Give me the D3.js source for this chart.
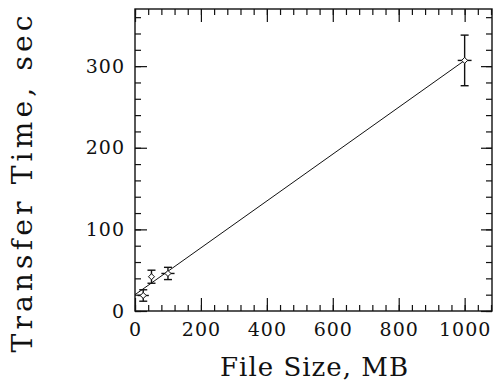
<!DOCTYPE html>
<html>
<head>
<meta charset="utf-8">
<script src="https://cdn.jsdelivr.net/npm/d3@7"></script>
<style>
  body { margin: 0; background: #fff; }
  text { font-family: "DejaVu Serif", serif; fill: #111; }
</style>
</head>
<body>
<div id="chart"></div>
<script>
// data
var fileSizes = [25, 50, 100, 1000];        // MB
var sizeErrors = [17, 8, 20, 21];
var transferTimes = [19, 42, 46, 307];      // sec
var timeErrors = [7, 8, 7.5, 31];
var fitSizes = [0, 1000];
var fitTimes = [20, 307];
var xTicks = [0, 200, 400, 600, 800, 1000];
var yTicks = [0, 100, 200, 300];

var svgWidth = 495;
var svgHeight = 381;

var margin = { top: 9, right: 3, bottom: 70, left: 135 };
var width = svgWidth - margin.left - margin.right;
var height = svgHeight - margin.top - margin.bottom;

var svg = d3.select("#chart")
  .append("svg")
  .attr("width", svgWidth)
  .attr("height", svgHeight);

var chartGroup = svg.append("g")
  .attr("transform", `translate(${margin.left}, ${margin.top})`);

var xScale = d3.scaleLinear().domain([0, 1083]).range([0, width]);
var yScale = d3.scaleLinear().domain([0, 370]).range([height, 0]);

var xMinor = d3.range(0, 1083, 40);
var yMinor = d3.range(0, 370, 20);

// axes (ticks pointing inward)
function styleAxis(g) {
  g.select(".domain").remove();
  g.selectAll("line").attr("stroke", "#111").attr("stroke-width", 1.2);
  return g;
}

chartGroup.append("g")
  .attr("transform", `translate(0, ${height})`)
  .call(d3.axisBottom(xScale).tickValues(xMinor).tickFormat("").tickSize(-6))
  .call(styleAxis);
chartGroup.append("g")
  .attr("transform", `translate(0, ${height})`)
  .call(d3.axisBottom(xScale).tickValues(xTicks).tickFormat(d3.format("d")).tickSize(-13).tickPadding(12))
  .call(styleAxis)
  .selectAll("text")
  .attr("font-size", 19)
  .attr("letter-spacing", 1)
  .attr("font-family", "DejaVu Serif");

chartGroup.append("g")
  .call(d3.axisTop(xScale).tickValues(xMinor).tickFormat("").tickSize(-6))
  .call(styleAxis);
chartGroup.append("g")
  .call(d3.axisTop(xScale).tickValues(xTicks).tickFormat("").tickSize(-13))
  .call(styleAxis);

chartGroup.append("g")
  .call(d3.axisLeft(yScale).tickValues(yMinor).tickFormat("").tickSize(-6))
  .call(styleAxis);
chartGroup.append("g")
  .call(d3.axisLeft(yScale).tickValues(yTicks).tickFormat(d3.format("d")).tickSize(-12).tickPadding(10))
  .call(styleAxis)
  .selectAll("text")
  .attr("font-size", 19)
  .attr("letter-spacing", 1)
  .attr("font-family", "DejaVu Serif");

chartGroup.append("g")
  .attr("transform", `translate(${width}, 0)`)
  .call(d3.axisRight(yScale).tickValues(yMinor).tickFormat("").tickSize(-6))
  .call(styleAxis);
chartGroup.append("g")
  .attr("transform", `translate(${width}, 0)`)
  .call(d3.axisRight(yScale).tickValues(yTicks).tickFormat("").tickSize(-11))
  .call(styleAxis);

// frame
chartGroup.append("rect")
  .attr("width", width)
  .attr("height", height)
  .attr("fill", "none")
  .attr("stroke", "#111")
  .attr("stroke-width", 1.4);

// fit line
var line = d3.line()
  .x(d => xScale(d[0]))
  .y(d => yScale(d[1]));

chartGroup.append("path")
  .datum(d3.zip(fitSizes, fitTimes))
  .attr("d", line)
  .attr("fill", "none")
  .attr("stroke", "#111")
  .attr("stroke-width", 1);

var points = fileSizes.map((s, i) => ({
  x: s, y: transferTimes[i], ex: sizeErrors[i], ey: timeErrors[i]
}));

var pts = chartGroup.selectAll(".pt")
  .data(points)
  .enter()
  .append("g")
  .attr("class", "pt");

// vertical error bars with caps
pts.append("line")
  .attr("x1", d => xScale(d.x)).attr("x2", d => xScale(d.x))
  .attr("y1", d => yScale(d.y - d.ey)).attr("y2", d => yScale(d.y + d.ey))
  .attr("stroke", "#111").attr("stroke-width", 1.4);
pts.append("line")
  .attr("x1", d => xScale(d.x) - 4).attr("x2", d => xScale(d.x) + 4)
  .attr("y1", d => yScale(d.y - d.ey)).attr("y2", d => yScale(d.y - d.ey))
  .attr("stroke", "#111").attr("stroke-width", 1.4);
pts.append("line")
  .attr("x1", d => xScale(d.x) - 4).attr("x2", d => xScale(d.x) + 4)
  .attr("y1", d => yScale(d.y + d.ey)).attr("y2", d => yScale(d.y + d.ey))
  .attr("stroke", "#111").attr("stroke-width", 1.4);

// horizontal error bars
pts.append("line")
  .attr("x1", d => xScale(d.x - d.ex)).attr("x2", d => xScale(d.x + d.ex))
  .attr("y1", d => yScale(d.y)).attr("y2", d => yScale(d.y))
  .attr("stroke", "#111").attr("stroke-width", 1.4);

// diamond markers
pts.append("path")
  .attr("d", d => {
    var cx = xScale(d.x), cy = yScale(d.y), r = 3;
    return `M${cx},${cy - r}L${cx + r},${cy}L${cx},${cy + r}L${cx - r},${cy}Z`;
  })
  .attr("fill", "#fff")
  .attr("stroke", "#111")
  .attr("stroke-width", 1);

// axis titles (wide spacing like the original vector font)
svg.append("text")
  .attr("x", 314)
  .attr("y", 376)
  .attr("text-anchor", "middle")
  .attr("font-size", 26)
  .attr("textLength", 188)
  .attr("lengthAdjust", "spacing")
  .text("File Size, MB");

svg.append("text")
  .attr("transform", "translate(32, 184) rotate(-90)")
  .attr("text-anchor", "middle")
  .attr("font-size", 28)
  .attr("textLength", 337)
  .attr("lengthAdjust", "spacing")
  .text("Transfer Time, sec");
</script>
</body>
</html>
